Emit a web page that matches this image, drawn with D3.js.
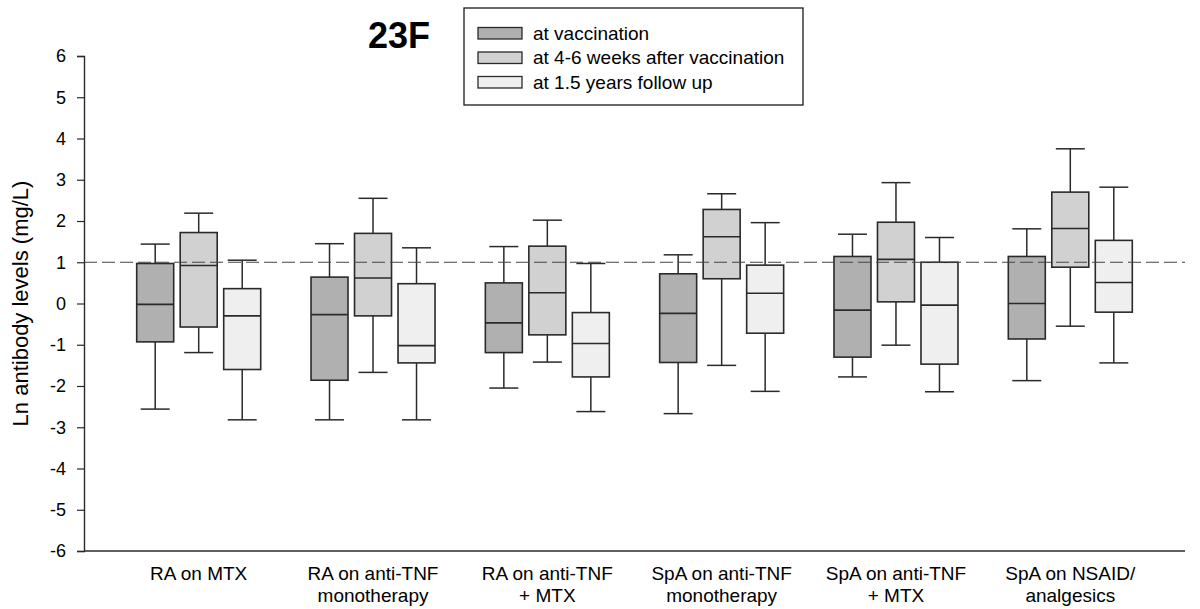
<!DOCTYPE html>
<html>
<head>
<meta charset="utf-8">
<script src="https://cdn.jsdelivr.net/npm/d3@7"></script>
<style>
  html, body { margin: 0; padding: 0; background: #fff; }
  svg { display: block; }
  text { font-family: Arial, "Liberation Sans", sans-serif; fill: #000; }
</style>
</head>
<body>
<svg id="chart" width="1200" height="609"></svg>
<script>
// ---- data ----
const categories = [
  ["RA on MTX"],
  ["RA on anti-TNF", "monotherapy"],
  ["RA on anti-TNF", "+ MTX"],
  ["SpA on anti-TNF", "monotherapy"],
  ["SpA on anti-TNF", "+ MTX"],
  ["SpA on NSAID/", "analgesics"]
];
const seriesNames = ["at vaccination", "at 4-6 weeks after vaccination", "at 1.5 years follow up"];
const seriesColors = ["#b0b0b0", "#d1d1d1", "#efefef"];
// five-number summaries: [lowWhisker, q1, median, q3, highWhisker]
const atVaccination = [
  [-2.56, -0.93, -0.02, 0.97, 1.44],
  [-2.82, -1.86, -0.27, 0.64, 1.45],
  [-2.05, -1.19, -0.47, 0.50, 1.38],
  [-2.67, -1.43, -0.24, 0.72, 1.18],
  [-1.78, -1.30, -0.16, 1.14, 1.68],
  [-1.87, -0.86, 0.00, 1.14, 1.81]
];
const atWeeks4to6 = [
  [-1.19, -0.57, 0.92, 1.72, 2.19],
  [-1.67, -0.30, 0.62, 1.70, 2.55],
  [-1.42, -0.76, 0.26, 1.39, 2.02],
  [-1.50, 0.60, 1.62, 2.28, 2.66],
  [-1.01, 0.04, 1.07, 1.97, 2.93],
  [-0.55, 0.88, 1.82, 2.70, 3.75]
];
const atYears1_5 = [
  [-2.82, -1.60, -0.30, 0.36, 1.05],
  [-2.82, -1.44, -1.02, 0.48, 1.35],
  [-2.62, -1.78, -0.97, -0.22, 0.97],
  [-2.13, -0.72, 0.25, 0.93, 1.96],
  [-2.14, -1.47, -0.04, 1.00, 1.60],
  [-1.44, -0.21, 0.51, 1.53, 2.82]
];
const seriesValues = [atVaccination, atWeeks4to6, atYears1_5];
const yTicks = [-6, -5, -4, -3, -2, -1, 0, 1, 2, 3, 4, 5, 6];
const referenceLine = 1;
const title = "23F";
const yLabel = "Ln antibody levels (mg/L)";

// ---- layout ----
const svg = d3.select("#chart");
const plot = { left: 84, right: 1185, top: 56, bottom: 551 };

const catIdx = categories.map((d, i) => i);
const x = d3.scalePoint().domain(catIdx).range([plot.left, plot.right]).padding(0.658);
const xs = d3.scalePoint().domain([0, 1, 2]).range([-43.5, 43.5]);
const y = d3.scaleLinear().domain([-6, 6]).range([plot.bottom, plot.top]);

const boxW = 37, capW = 29;
const stroke = "#2a2a2a";

// y axis
const yAxis = svg.append("g")
  .attr("transform", `translate(${plot.left},0)`)
  .call(d3.axisLeft(y).tickValues(yTicks).tickSize(7).tickPadding(11).tickFormat(d => String(d)));
yAxis.select(".domain").attr("stroke", stroke).attr("stroke-width", 1.4);
yAxis.selectAll(".tick line").attr("stroke", stroke).attr("stroke-width", 1.2);
yAxis.selectAll(".tick text").style("font-size", "18px").style("font-family", "Arial, 'Liberation Sans', sans-serif").attr("fill", "#000");

// x axis (line only)
svg.append("line")
  .attr("x1", plot.left).attr("x2", plot.right)
  .attr("y1", plot.bottom).attr("y2", plot.bottom)
  .attr("stroke", stroke).attr("stroke-width", 1.6);

// x labels
const xl = svg.append("g");
categories.forEach((lines, i) => {
  const t = xl.append("text")
    .attr("x", x(i)).attr("y", 580)
    .attr("text-anchor", "middle")
    .style("font-size", "19px");
  lines.forEach((ln, j) => {
    t.append("tspan").attr("x", x(i)).attr("dy", j === 0 ? 0 : 21.5).text(ln);
  });
});

// y label
svg.append("text")
  .attr("transform", `translate(28,${y(0)}) rotate(-90)`)
  .attr("text-anchor", "middle")
  .style("font-size", "22px")
  .text(yLabel);

// boxes
seriesValues.forEach((vals, s) => {
  const g = svg.append("g");
  vals.forEach((v, i) => {
    const cx = x(i) + xs(s);
    const [lo, q1, med, q3, hi] = v;
    g.append("line").attr("x1", cx).attr("x2", cx).attr("y1", y(hi)).attr("y2", y(q3))
      .attr("stroke", stroke).attr("stroke-width", 1.5);
    g.append("line").attr("x1", cx).attr("x2", cx).attr("y1", y(q1)).attr("y2", y(lo))
      .attr("stroke", stroke).attr("stroke-width", 1.5);
    g.append("line").attr("x1", cx - capW / 2).attr("x2", cx + capW / 2).attr("y1", y(hi)).attr("y2", y(hi))
      .attr("stroke", stroke).attr("stroke-width", 1.5);
    g.append("line").attr("x1", cx - capW / 2).attr("x2", cx + capW / 2).attr("y1", y(lo)).attr("y2", y(lo))
      .attr("stroke", stroke).attr("stroke-width", 1.5);
    g.append("rect").attr("x", cx - boxW / 2).attr("y", y(q3))
      .attr("width", boxW).attr("height", y(q1) - y(q3))
      .attr("fill", seriesColors[s]).attr("stroke", stroke).attr("stroke-width", 1.6);
    g.append("line").attr("x1", cx - boxW / 2).attr("x2", cx + boxW / 2).attr("y1", y(med)).attr("y2", y(med))
      .attr("stroke", stroke).attr("stroke-width", 1.6);
  });
});

// reference dashed line
svg.append("line")
  .attr("x1", plot.left).attr("x2", plot.right)
  .attr("y1", y(referenceLine)).attr("y2", y(referenceLine))
  .attr("stroke", "#444").attr("stroke-width", 1.1)
  .attr("stroke-dasharray", "13,5");

// title
svg.append("text")
  .attr("x", 399).attr("y", 48)
  .attr("text-anchor", "middle")
  .style("font-size", "36px").style("font-weight", "bold")
  .text(title);

// legend
const lg = svg.append("g");
lg.append("rect").attr("x", 464).attr("y", 8).attr("width", 339).attr("height", 97)
  .attr("fill", "#fff").attr("stroke", "#1a1a1a").attr("stroke-width", 1.3);
seriesNames.forEach((name, i) => {
  const yy = 33 + i * 24.5;
  lg.append("rect").attr("x", 478).attr("y", yy - 5.5).attr("width", 44).attr("height", 11.5)
    .attr("fill", seriesColors[i]).attr("stroke", stroke).attr("stroke-width", 1.3);
  lg.append("text").attr("x", 533).attr("y", yy + 6.5)
    .style("font-size", "19px").text(name);
});
</script>
</body>
</html>
